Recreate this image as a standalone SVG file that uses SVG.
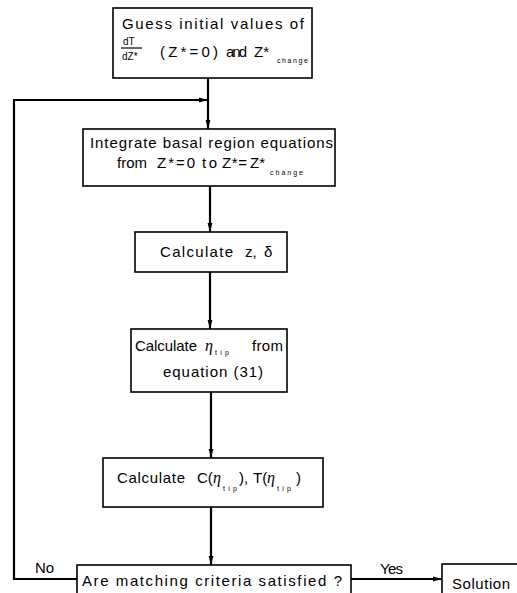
<svg xmlns="http://www.w3.org/2000/svg" width="517" height="593" viewBox="0 0 517 593">
<defs>
<style>
.box{fill:#fff;stroke:#000;stroke-width:1.6}
.ln{fill:none;stroke:#000;stroke-width:2.2}
text{font-family:"Liberation Sans","DejaVu Sans",sans-serif;fill:#000;font-size:15px}
.sm{font-size:7px}
.fr{font-size:10px}
.it{font-family:"Liberation Serif",serif;font-style:italic;font-size:16px}
</style>
<marker id="ah" viewBox="0 0 10 10" refX="10" refY="5" markerWidth="9" markerHeight="6" markerUnits="userSpaceOnUse" orient="auto" preserveAspectRatio="none">
<path d="M0,1 L10,5 L0,9 Z" fill="#000"/>
</marker>
</defs>
<rect width="517" height="593" fill="#fff"/>
<g id="connectors">
<line class="ln" x1="208" y1="78" x2="208" y2="129" marker-end="url(#ah)"/>
<polyline class="ln" points="77,579 14,579 14,100 208,100" marker-end="url(#ah)"/>
<line class="ln" x1="210" y1="186" x2="210" y2="232" marker-end="url(#ah)"/>
<line class="ln" x1="210" y1="272" x2="210" y2="329" marker-end="url(#ah)"/>
<line class="ln" x1="211" y1="392" x2="211" y2="458" marker-end="url(#ah)"/>
<line class="ln" x1="211" y1="507" x2="211" y2="565" marker-end="url(#ah)"/>
<line class="ln" x1="351" y1="579" x2="442" y2="579" marker-end="url(#ah)"/>
<text x="35" y="573" textLength="19">No</text>
<text x="380" y="574" textLength="23">Yes</text>
</g>
<g id="n1">
<rect class="box" x="113" y="8" width="199" height="70"/>
<text x="122" y="29" textLength="182">Guess initial values of</text>
<text class="fr" x="123" y="45">dT</text>
<line x1="121" y1="48" x2="142" y2="48" stroke="#000" stroke-width="1.2"/>
<text class="fr" x="122" y="60">dZ*</text>
<text x="160" y="57" textLength="58">(Z*=0)</text>
<text x="226" y="57" textLength="21">and</text>
<text x="254" y="57">Z*</text>
<text class="sm" x="277" y="63" textLength="31">change</text>
</g>
<g id="n2">
<rect class="box" x="83" y="129" width="252" height="57"/>
<text x="90" y="148" textLength="243">Integrate basal region equations</text>
<text x="117" y="168" textLength="30">from</text>
<text x="157" y="168" textLength="38">Z*=0</text>
<text x="202" y="168" textLength="15">to</text>
<text x="222" y="168" textLength="25">Z*=</text>
<text x="250" y="168">Z*</text>
<text class="sm" x="270" y="175" textLength="33">change</text>
</g>
<g id="n3">
<rect class="box" x="135" y="232" width="152" height="40"/>
<text x="160" y="257" textLength="73">Calculate</text>
<text x="245" y="257">z,</text>
<text x="264" y="257">δ</text>
</g>
<g id="n4">
<rect class="box" x="131" y="329" width="156" height="63"/>
<text x="135" y="351" textLength="62">Calculate</text>
<text class="it" x="205" y="351">η</text>
<text class="sm" x="215" y="355" textLength="14">tip</text>
<text x="252" y="351" textLength="31">from</text>
<text x="163" y="377" textLength="100">equation (31)</text>
</g>
<g id="n5">
<rect class="box" x="103" y="458" width="220" height="49"/>
<text x="117" y="483" textLength="68">Calculate</text>
<text x="197" y="483">C(</text>
<text class="it" x="213" y="483">η</text>
<text class="sm" x="223" y="491" textLength="14">tip</text>
<text x="239" y="483">),</text>
<text x="253" y="483">T(</text>
<text class="it" x="267" y="483">η</text>
<text class="sm" x="277" y="491" textLength="14">tip</text>
<text x="296" y="483">)</text>
</g>
<g id="n6">
<rect class="box" x="77" y="565" width="274" height="40"/>
<text x="82" y="586" textLength="260">Are matching criteria satisfied ?</text>
</g>
<g id="n7">
<rect class="box" x="442" y="564" width="90" height="40"/>
<text x="452" y="589" textLength="58">Solution</text>
</g>
</svg>
